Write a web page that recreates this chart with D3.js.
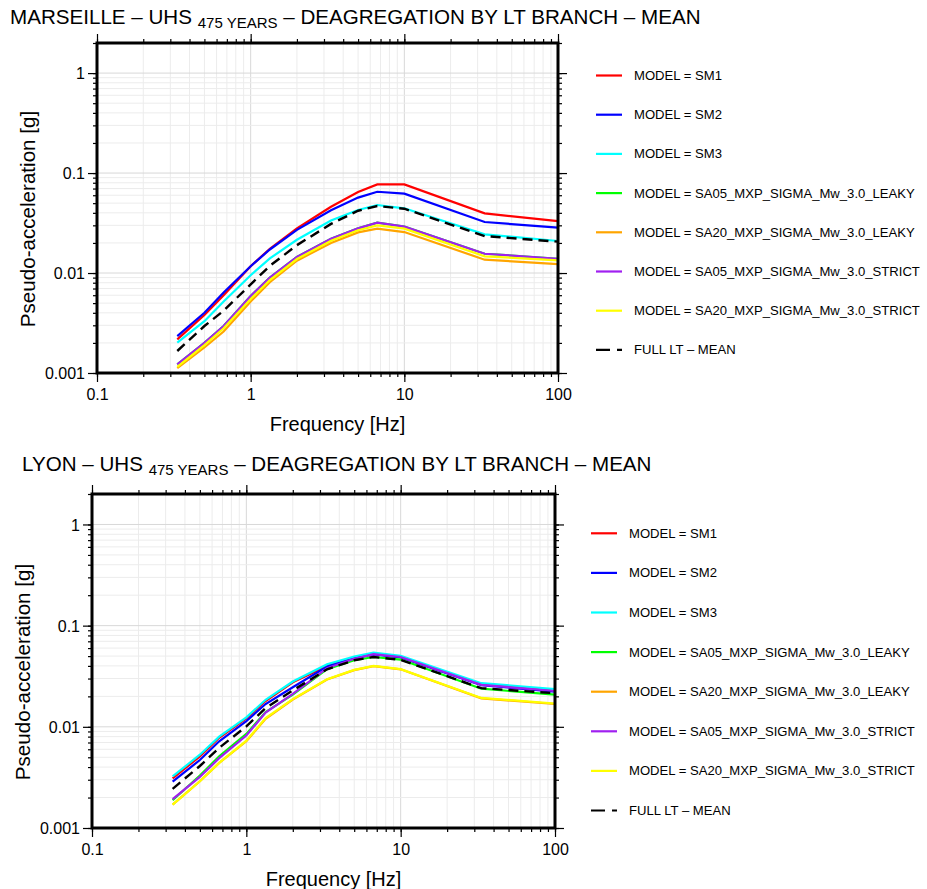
<!DOCTYPE html>
<html>
<head>
<meta charset="utf-8">
<script src="https://cdn.jsdelivr.net/npm/d3@7"></script>
<style>
body { margin: 0; background: #fff; }
text { font-family: "Liberation Sans", Arial, Helvetica, sans-serif; }
</style>
</head>
<body>
<div id="chart"></div>
<script>
// frequencies of the spectral ordinates [Hz]
const freqHz = [0.333, 0.5, 0.667, 1, 1.333, 2, 3.333, 5, 6.667, 10, 33.33, 100];

const modelNames = ["MODEL = SM1", "MODEL = SM2", "MODEL = SM3",
  "MODEL = SA05_MXP_SIGMA_Mw_3.0_LEAKY", "MODEL = SA20_MXP_SIGMA_Mw_3.0_LEAKY",
  "MODEL = SA05_MXP_SIGMA_Mw_3.0_STRICT", "MODEL = SA20_MXP_SIGMA_Mw_3.0_STRICT"];
const modelColors = ["#ff0000", "#0000ff", "#00ffff", "#00ff00", "#ffa500", "#a020f0", "#ffff00"];
const meanName = "FULL LT \u2013 MEAN";

const xTicks = [0.1, 1, 10, 100];
const yTicks = [0.001, 0.01, 0.1, 1];

// Marseille, values in g
const marSM1 = [0.00217, 0.0038, 0.0060, 0.0117, 0.0175, 0.028, 0.046, 0.0646, 0.077, 0.077, 0.0395, 0.033];
const marSM2 = [0.00234, 0.0040, 0.0064, 0.0117, 0.0172, 0.027, 0.0425, 0.0568, 0.065, 0.0622, 0.0324, 0.0284];
const marSM3 = [0.00201, 0.0033, 0.0052, 0.0095, 0.0140, 0.0215, 0.0335, 0.0427, 0.0479, 0.0444, 0.0244, 0.0209];
const marSA05Leaky = [0.00122, 0.0020, 0.00295, 0.0059, 0.0090, 0.0145, 0.022, 0.028, 0.0319, 0.0291, 0.0156, 0.0139];
const marSA20Leaky = [0.00112, 0.0018, 0.0026, 0.0052, 0.0081, 0.0133, 0.020, 0.0255, 0.0278, 0.0257, 0.0136, 0.0123];
const marSA05Strict = [0.00122, 0.0020, 0.00295, 0.0059, 0.0090, 0.0145, 0.022, 0.028, 0.0319, 0.0291, 0.0156, 0.0139];
const marSA20Strict = [0.00115, 0.0019, 0.0028, 0.0055, 0.0085, 0.0138, 0.021, 0.0268, 0.030, 0.0278, 0.0147, 0.0134];
const marMean = [0.00166, 0.00295, 0.0042, 0.0077, 0.0118, 0.019, 0.031, 0.042, 0.0468, 0.044, 0.0234, 0.0206];

// Lyon, values in g
const lyoSM1 = [0.0031, 0.0051, 0.0078, 0.0121, 0.018, 0.0275, 0.040, 0.048, 0.0525, 0.049, 0.0262, 0.0228];
const lyoSM2 = [0.00288, 0.0047, 0.0072, 0.0114, 0.0168, 0.0246, 0.0395, 0.0475, 0.052, 0.0485, 0.0258, 0.0222];
const lyoSM3 = [0.00323, 0.0053, 0.0080, 0.0124, 0.0185, 0.028, 0.0415, 0.0495, 0.0542, 0.0502, 0.027, 0.0236];
const lyoSA05Leaky = [0.00188, 0.0033, 0.0051, 0.0085, 0.0140, 0.0208, 0.0372, 0.0455, 0.049, 0.0462, 0.0238, 0.0208];
const lyoSA20Leaky = [0.0017, 0.0029, 0.0044, 0.0072, 0.012, 0.0186, 0.0293, 0.0363, 0.0398, 0.037, 0.0191, 0.0168];
const lyoSA05Strict = [0.00193, 0.0032, 0.0049, 0.0082, 0.0138, 0.0212, 0.038, 0.047, 0.0522, 0.049, 0.026, 0.0226];
const lyoSA20Strict = [0.0017, 0.0029, 0.0044, 0.0073, 0.0122, 0.0188, 0.0295, 0.0365, 0.040, 0.0372, 0.0193, 0.017];
const lyoMean = [0.00244, 0.0041, 0.0062, 0.0101, 0.0153, 0.0229, 0.037, 0.0455, 0.049, 0.0459, 0.0241, 0.0215];

const width = 927, height = 889;
const svg = d3.select("#chart").append("svg")
    .attr("width", width)
    .attr("height", height);

function minorValues(lo, hi) {
    var vals = [];
    for (var dec = lo; dec < hi; dec *= 10) {
        for (var k = 1; k <= 9; k++) {
            var v = +(k * dec).toPrecision(3);
            if (v <= hi) vals.push(v);
        }
    }
    vals.push(hi);
    return vals;
}

function drawPanel(p) {
    var x = d3.scaleLog().domain([0.1, 100]).range([p.left, p.right]);
    var y = d3.scaleLog().domain([0.001, 2]).range([p.bottom, p.top]);
    var g = svg.append("g");

    var xMinor = minorValues(0.1, 100);
    var yMinor = minorValues(0.001, 1).concat([2]);

    // grid
    g.selectAll(".gx").data(xMinor).join("line")
        .attr("x1", d => x(d)).attr("x2", d => x(d))
        .attr("y1", p.top).attr("y2", p.bottom)
        .attr("stroke", d => xTicks.includes(d) ? "#d8d8d8" : "#ececec")
        .attr("stroke-width", 1);
    g.selectAll(".gy").data(yMinor).join("line")
        .attr("x1", p.left).attr("x2", p.right)
        .attr("y1", d => y(d)).attr("y2", d => y(d))
        .attr("stroke", d => yTicks.includes(d) ? "#d8d8d8" : "#ececec")
        .attr("stroke-width", 1);

    // ticks: minor then major, on all four sides
    function ticks(axisFn, scale, vals, size, tr, labels) {
        var a = axisFn(scale).tickValues(vals).tickSize(size).tickSizeOuter(0)
            .tickFormat(labels ? (d => String(d)) : "");
        var ag = g.append("g").attr("transform", tr).call(a);
        ag.select(".domain").remove();
        ag.selectAll("line").attr("stroke", "#000").attr("stroke-width", 1.2);
        ag.selectAll("text").attr("font-size", 16).attr("fill", "#000")
            .style("font-family", '"Liberation Sans", Arial, sans-serif');
        return ag;
    }
    ticks(d3.axisBottom, x, xMinor, 4, `translate(0,${p.bottom})`, false);
    ticks(d3.axisTop, x, xMinor, 4, `translate(0,${p.top})`, false);
    ticks(d3.axisLeft, y, yMinor, 4, `translate(${p.left},0)`, false);
    ticks(d3.axisRight, y, yMinor, 4, `translate(${p.right},0)`, false);
    var bx = ticks(d3.axisBottom, x, xTicks, 9, `translate(0,${p.bottom})`, true);
    bx.selectAll("text").attr("dy", null).attr("y", 27);
    ticks(d3.axisTop, x, xTicks, 9, `translate(0,${p.top})`, false);
    var ly = ticks(d3.axisLeft, y, yTicks, 9, `translate(${p.left},0)`, true);
    ly.selectAll("text").attr("x", -12).attr("dy", "0.36em");
    ticks(d3.axisRight, y, yTicks, 9, `translate(${p.right},0)`, false);

    // series
    var line = d3.line().x(d => x(d[0])).y(d => y(d[1]));
    p.series.forEach(function(vals, i) {
        g.append("path")
            .datum(freqHz.map((f, j) => [f, vals[j]]))
            .attr("d", line)
            .attr("fill", "none")
            .attr("stroke", modelColors[i])
            .attr("stroke-width", 2.2);
    });
    g.append("path")
        .datum(freqHz.map((f, j) => [f, p.mean[j]]))
        .attr("d", line)
        .attr("fill", "none")
        .attr("stroke", "#000")
        .attr("stroke-width", 2.4)
        .attr("stroke-dasharray", "10,6");

    // frame
    g.append("rect")
        .attr("x", p.left).attr("y", p.top)
        .attr("width", p.right - p.left).attr("height", p.bottom - p.top)
        .attr("fill", "none").attr("stroke", "#000").attr("stroke-width", 3);

    // title with subscript
    var t = g.append("text").attr("x", p.titleX).attr("y", p.titleY).attr("font-size", 20.6);
    t.append("tspan").text(p.site + " \u2013 UHS ");
    t.append("tspan").attr("dy", 4).attr("font-size", 15).text("475 YEARS");
    t.append("tspan").attr("dy", -4).text(" \u2013 DEAGREGATION BY LT BRANCH \u2013 MEAN");

    // axis labels
    g.append("text")
        .attr("x", (p.left + p.right) / 2 + 10)
        .attr("y", p.bottom + 58)
        .attr("text-anchor", "middle")
        .attr("font-size", 20)
        .text("Frequency [Hz]");
    var cy = (p.top + p.bottom) / 2 + 11;
    g.append("text")
        .attr("transform", `translate(${p.left - 62},${cy}) rotate(-90)`)
        .attr("text-anchor", "middle")
        .attr("font-size", 20.6)
        .text("Pseudo-acceleration [g]");

    // legend
    var names = modelNames.concat([meanName]);
    names.forEach(function(name, i) {
        var ly0 = p.legY + i * p.legStep;
        var ln = g.append("line")
            .attr("x1", p.legX).attr("x2", p.legX + 26)
            .attr("y1", ly0).attr("y2", ly0)
            .attr("stroke-width", 2.2);
        if (i < modelNames.length) {
            ln.attr("stroke", modelColors[i]);
        } else {
            ln.attr("stroke", "#000").attr("stroke-dasharray", "14,7,5,40");
        }
        g.append("text")
            .attr("x", p.legX + 38).attr("y", ly0)
            .attr("dy", "0.35em")
            .attr("font-size", 13.1)
            .text(name);
    });
}

drawPanel({
    site: "MARSEILLE", left: 97, right: 558, top: 43, bottom: 373,
    titleX: 10, titleY: 24, legX: 596, legY: 75.5, legStep: 39.2,
    series: [marSM1, marSM2, marSM3, marSA05Leaky, marSA20Leaky, marSA05Strict, marSA20Strict],
    mean: marMean
});
drawPanel({
    site: "LYON", left: 92, right: 555, top: 494, bottom: 828,
    titleX: 22, titleY: 471, legX: 591, legY: 533.3, legStep: 39.6,
    series: [lyoSM1, lyoSM2, lyoSM3, lyoSA05Leaky, lyoSA20Leaky, lyoSA05Strict, lyoSA20Strict],
    mean: lyoMean
});
</script>
</body>
</html>
